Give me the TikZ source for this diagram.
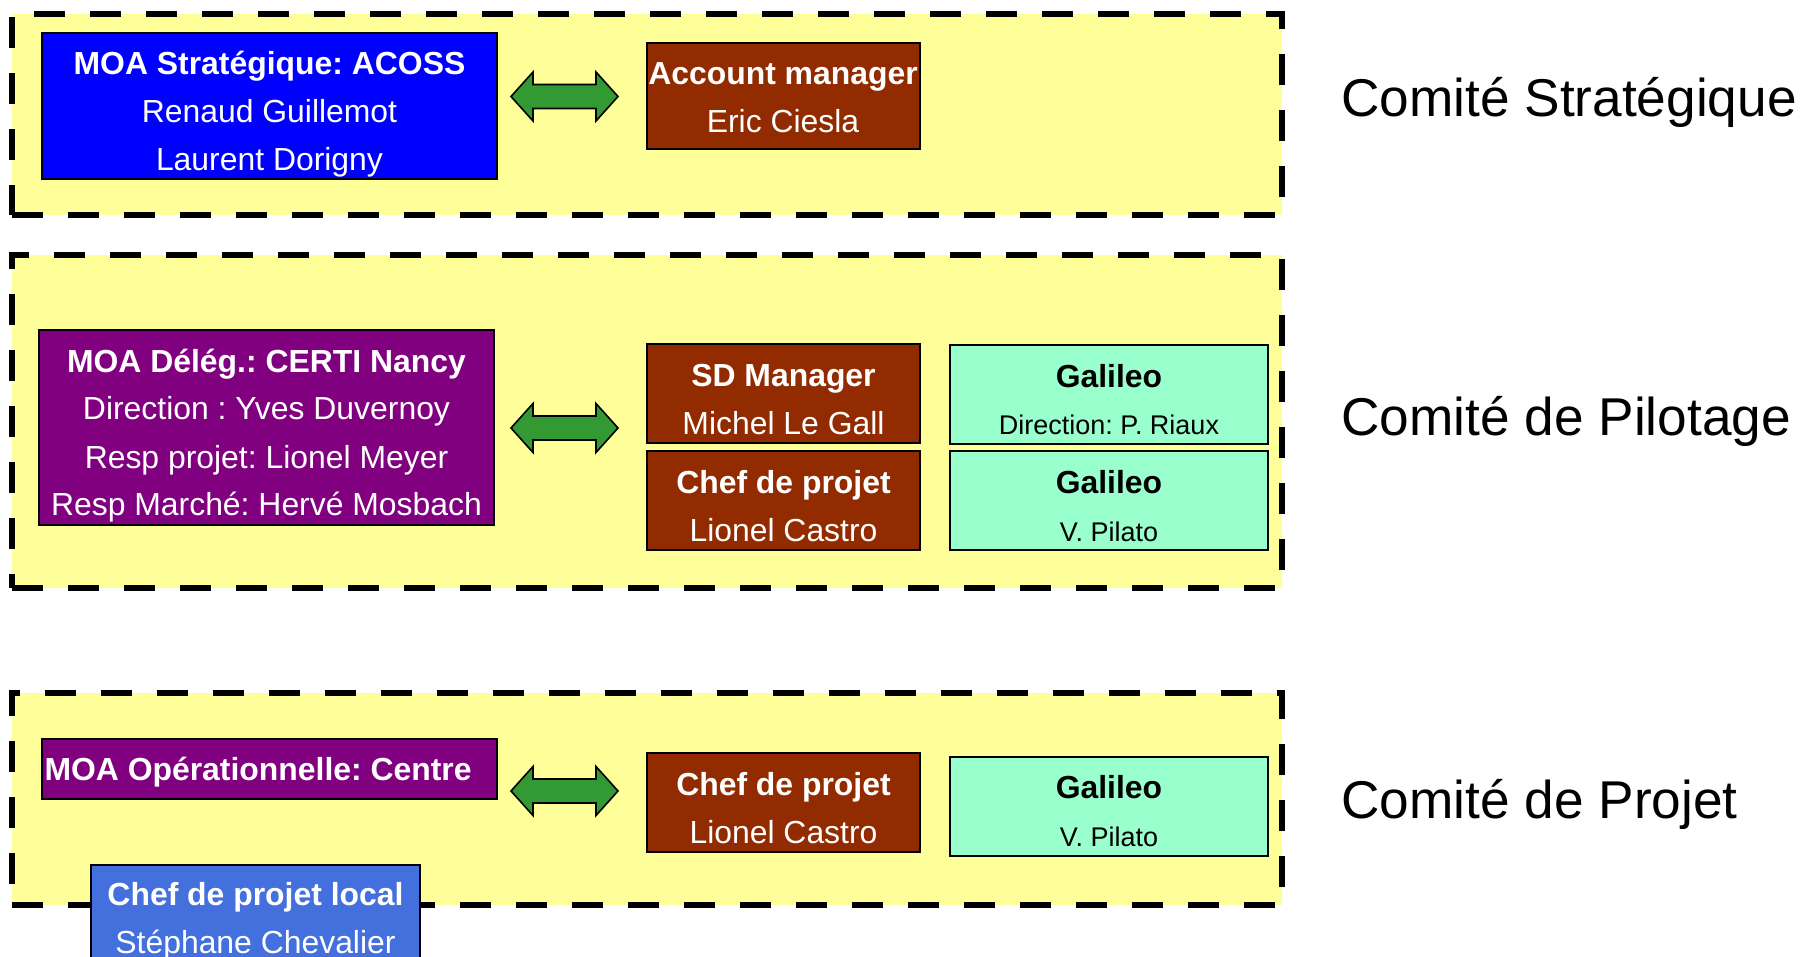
\documentclass[tikz,border=0pt]{standalone}
\usepackage{fontspec}
\setmainfont{Liberation Sans}
\usepackage{tikz}
\frenchspacing

\definecolor{paleyellow}{RGB}{255,255,153}
\definecolor{moablue}{RGB}{0,0,255}
\definecolor{moapurple}{RGB}{128,0,128}
\definecolor{csbrown}{RGB}{146,44,0}
\definecolor{galmint}{RGB}{153,255,204}
\definecolor{localblue}{RGB}{67,112,221}
\definecolor{arrowgreen}{RGB}{51,153,51}

\newcommand{\boxfont}{\fontsize{15.95}{24}\selectfont}
\newcommand{\subfont}{\fontsize{13.5}{24}\selectfont}
\newcommand{\comitefont}{\fontsize{26.6}{30}\selectfont}

% fat two-headed arrow centred on #1
\newcommand{\fatarrow}[1]{%
  \draw[fatarr] (#1) ++(-53.5,0) -- ++(22,-24.5) -- ++(0,12.5) -- ++(63,0) -- ++(0,-12.5)
    -- ++(22,24.5) -- ++(-22,24.5) -- ++(0,-12.5) -- ++(-63,0) -- ++(0,12.5) -- cycle;}

\begin{document}
\begin{tikzpicture}[x=0.5pt, y=-0.5pt,
  comite/.style={draw=black, line width=3pt, dash pattern=on 15.5pt off 12.5pt,
    fill=paleyellow, inner sep=0pt, minimum width=635pt},
  card/.style={draw=black, line width=1pt, inner sep=0pt, align=center,
    font=\boxfont, text=white, text height=44pt, text depth=3.5pt},
  threelines/.style={text height=68pt},
  fourlines/.style={text height=92pt},
  moa/.style={card, minimum width=227.5pt},
  presta/.style={card, fill=csbrown, minimum width=136.5pt, minimum height=49.5pt},
  galileo/.style={card, fill=galmint, text=black, minimum width=159pt, minimum height=49.5pt},
  fatarr/.style={draw=black, line width=0.8pt, fill=arrowgreen, line join=miter},
  label/.style={anchor=base west, inner sep=0pt, font=\comitefont}]

\useasboundingbox (0,0) rectangle (1806,957);
\clip (0,0) rectangle (1806,957);

% the three committees
\node[comite, minimum height=100.5pt] (strat) at (647,114.5) {};
\node[comite, minimum height=166.5pt] (pilot) at (647,421.5) {};
\node[comite, minimum height=106pt] (projet) at (647,799) {};

% Comite Strategique
\node[moa, threelines, fill=moablue, minimum height=73pt] (acoss) at (269.5,106)
  {\textbf{MOA Stratégique: ACOSS}\\Renaud Guillemot\\Laurent Dorigny};
\node[presta, minimum height=53pt, text height=40.5pt] (account) at (783,96)
  {\textbf{Account manager}\\Eric Ciesla};

% Comite de Pilotage
\node[moa, fourlines, fill=moapurple, minimum height=97.5pt] (certi) at (266.5,427.5)
  {\textbf{MOA Délég.: CERTI Nancy}\\Direction : Yves Duvernoy\\Resp projet: Lionel Meyer\\Resp Marché: Hervé Mosbach};
\node[presta] (sdm) at (783.5,394) {\textbf{SD Manager}\\Michel Le Gall};
\node[presta] (chef) at (783.5,500.5) {\textbf{Chef de projet}\\Lionel Castro};
\node[galileo] (galdir) at (1109,394.5) {\textbf{Galileo}\\{\subfont Direction: P. Riaux}};
\node[galileo] (galpil) at (1109,500.5) {\textbf{Galileo}\\{\subfont V. Pilato}};

% Comite de Projet
\node[moa, fill=moapurple, minimum height=30pt, text width=225pt, align=flush left,
  text height=17pt, text depth=6pt] (centre) at (269.5,769)
  {\textbf{MOA Opérationnelle: Centre}};
\node[presta] (chefp) at (783.5,802.5) {\textbf{Chef de projet}\\Lionel Castro};
\node[galileo] (galp) at (1109,806) {\textbf{Galileo}\\{\subfont V. Pilato}};
\node[card, fill=localblue, minimum width=164.5pt, minimum height=47.5pt] (local) at (255.5,912.5)
  {\textbf{Chef de projet local}\\Stéphane Chevalier};

% arrows between MOA and provider
\coordinate (arr1) at (564.5,96.5);
\coordinate (arr2) at (564.5,428);
\coordinate (arr3) at (564.5,791);
\foreach \a in {arr1,arr2,arr3}
  {\fatarrow{\a}}

% names of the committees
\node[label] (lstrat) at (1341,117) {Comité Stratégique};
\node[label] (lpilot) at (1341,436) {Comité de Pilotage};
\node[label] (lprojet) at (1341,818) {Comité de Projet};

\end{tikzpicture}
\end{document}
